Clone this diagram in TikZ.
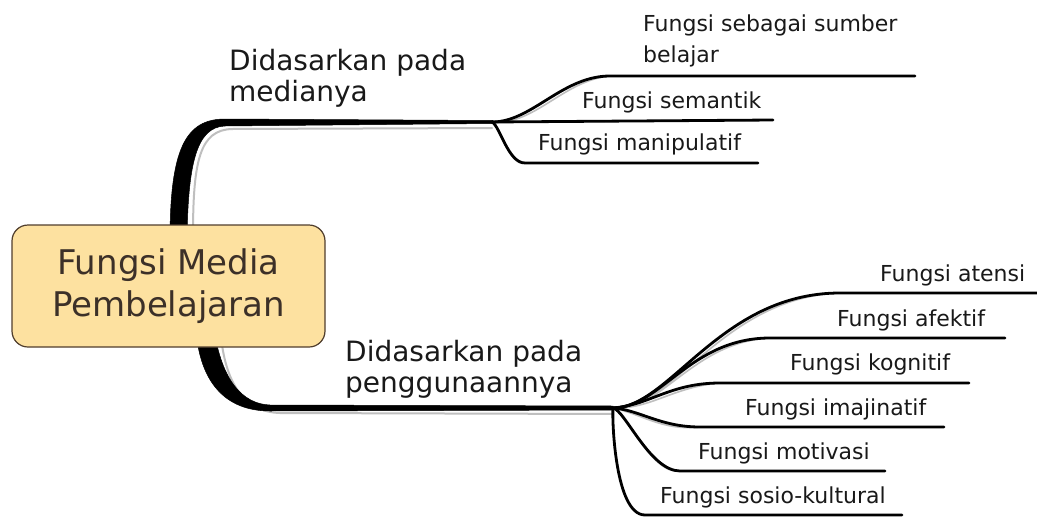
\documentclass[tikz,border=0pt]{standalone}
\usepackage{fontspec}
\usetikzlibrary{calc}
\setmainfont{DejaVu Sans}
\definecolor{nodefill}{RGB}{253,225,160}
\definecolor{nodeedge}{RGB}{80,62,45}
\definecolor{nodetext}{RGB}{60,48,40}
\definecolor{txt}{RGB}{25,25,25}
\tikzset{
  leaf/.style={anchor=base west, inner sep=0pt, text=txt, font=\fontsize{22}{31}\selectfont, align=left},
  branchlabel/.style={anchor=base west, inner sep=0pt, text=txt, font=\fontsize{28}{31}\selectfont, align=left},
  conn/.style={line width=2.8pt, draw=black, line cap=round},
  shade/.style={line width=1.6pt, draw=black!25, line cap=round},
  trunk/.style={fill=black, draw=black, line width=0.5pt},
  central/.style={draw=nodeedge, line width=1.2pt, fill=nodefill, rounded corners=16pt,
    minimum width=313pt, minimum height=122pt, text=nodetext, align=center,
    font=\fontsize{34}{42}\selectfont}
}
\begin{document}
\begin{tikzpicture}[x=1pt,y=-1pt]
\useasboundingbox (0,0) rectangle (1037,517);
\fill[white] (0,0) rectangle (1037,517);

% coordinates
\coordinate (b1) at (492,122);
\coordinate (b2) at (613,408);
\coordinate (e1s) at (610,76);  \coordinate (e1) at (915,76);
\coordinate (e2) at (773,120);
\coordinate (e3s) at (525,163); \coordinate (e3) at (758,163);
\coordinate (f1s) at (840,293); \coordinate (f1) at (1037,293);
\coordinate (f2s) at (770,338); \coordinate (f2) at (1005,338);
\coordinate (f3s) at (720,383); \coordinate (f3) at (969,383);
\coordinate (f4s) at (700,427); \coordinate (f4) at (944,427);
\coordinate (f5s) at (680,471); \coordinate (f5) at (885,471);
\coordinate (f6s) at (645,515); \coordinate (f6) at (902,515);

% shadows of main branches
\draw[shade, line width=2pt] (193,235) .. controls (193,160) and (200,130) .. (232,129) -- ($(b1)+(0,6)$);
\draw[shade, line width=2pt] (222,345) .. controls (228,385) and (245,412) .. (280,413) -- ($(b2)+(0,6)$);

% main branches (tapered)
\path[trunk] (170,240) .. controls (170,150) and (185,119) .. (225,119) -- (493,120.5)
  -- (493,123.5) -- (225,126) .. controls (196,127) and (188,165) .. (187,240) -- cycle;
\path[trunk] (196,330) .. controls (200,382) and (225,411) .. (270,411) -- (613,410)
  -- (613,406) -- (270,405) .. controls (242,404) and (222,380) .. (214,330) -- cycle;

% leaf shadows
\begin{scope}[shift={(2,4)}]
\draw[shade] (b1) .. controls (532,122) and (562,76) .. (e1s) -- (e1);
\draw[shade] (b1) -- (e2);
\draw[shade] (b1) .. controls (500,126) and (508,163) .. (e3s) -- (e3);
\draw[shade] (b2) .. controls (670,408) and (720,293) .. (f1s) -- (f1);
\draw[shade] (b2) .. controls (660,408) and (690,338) .. (f2s) -- (f2);
\draw[shade] (b2) .. controls (650,405) and (670,383) .. (f3s) -- (f3);
\draw[shade] (b2) .. controls (640,410) and (660,427) .. (f4s) -- (f4);
\draw[shade] (b2) .. controls (625,410) and (650,471) .. (f5s) -- (f5);
\end{scope}

% leaf connectors
\draw[conn] (b1) .. controls (532,122) and (562,76) .. (e1s) -- (e1);
\draw[conn] (b1) -- (e2);
\draw[conn] (b1) .. controls (500,126) and (508,163) .. (e3s) -- (e3);
\draw[conn] (b2) .. controls (670,408) and (720,293) .. (f1s) -- (f1);
\draw[conn] (b2) .. controls (660,408) and (690,338) .. (f2s) -- (f2);
\draw[conn] (b2) .. controls (650,405) and (670,383) .. (f3s) -- (f3);
\draw[conn] (b2) .. controls (640,410) and (660,427) .. (f4s) -- (f4);
\draw[conn] (b2) .. controls (625,410) and (650,471) .. (f5s) -- (f5);
\draw[conn] (b2) .. controls (612,420) and (615,515) .. (f6s) -- (f6);

% central node
\node[central] (c) at (168.5,286) {Fungsi Media\\Pembelajaran};

% branch labels (base = last line)
\node[branchlabel] (m1) at (229,101) {Didasarkan pada\\medianya};
\node[branchlabel] (m2) at (345,392) {Didasarkan pada\\penggunaannya};

% leaves
\node[leaf] (t1) at (643,62) {Fungsi sebagai sumber\\belajar};
\node[leaf] (t2) at (582,108) {Fungsi semantik};
\node[leaf] (t3) at (538,150) {Fungsi manipulatif};
\node[leaf] (u1) at (880,281) {Fungsi atensi};
\node[leaf] (u2) at (837,326) {Fungsi afektif};
\node[leaf] (u3) at (790,370) {Fungsi kognitif};
\node[leaf] (u4) at (745,415) {Fungsi imajinatif};
\node[leaf] (u5) at (698,459) {Fungsi motivasi};
\node[leaf] (u6) at (660,503) {Fungsi sosio-kultural};
\end{tikzpicture}
\end{document}
